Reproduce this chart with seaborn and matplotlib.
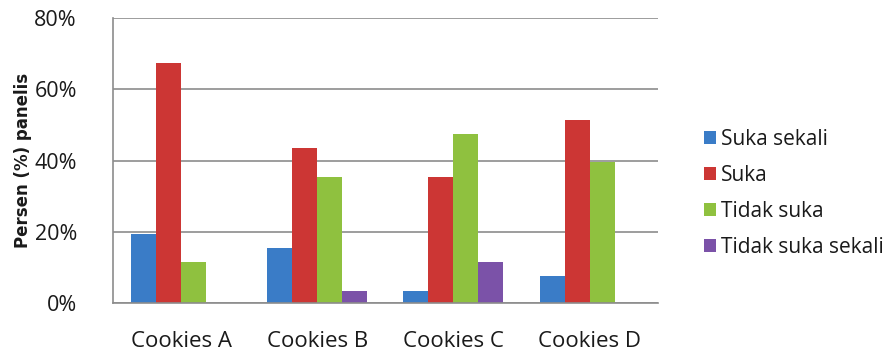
import matplotlib
matplotlib.use("Agg")
import matplotlib.pyplot as plt
import seaborn as sns
import pandas as pd
from matplotlib.ticker import FixedLocator, PercentFormatter

categories = ["Cookies A", "Cookies B", "Cookies C", "Cookies D"]
series = ["Suka sekali", "Suka", "Tidak suka", "Tidak suka sekali"]
suka_sekali = [19.5, 15.5, 3.5, 7.5]
suka = [67.5, 43.5, 35.5, 51.5]
tidak_suka = [11.5, 35.5, 47.5, 39.5]
tidak_suka_sekali = [0.0, 3.5, 11.5, 0.0]
colors = ["#3a7cc7", "#cc3634", "#8fc13f", "#7b52a8"]

rows = []
for s, vals in zip(series, [suka_sekali, suka, tidak_suka, tidak_suka_sekali]):
    for c, v in zip(categories, vals):
        rows.append({"Cookies": c, "Kategori": s, "Persen": v})
df = pd.DataFrame(rows)

sns.set_style("white")
plt.rcParams["font.family"] = ["Open Sans", "DejaVu Sans"]

fig = plt.figure(figsize=(8.9, 3.54), dpi=100)
ax = fig.add_axes([0.127, 0.144, 0.612, 0.805])
sns.barplot(data=df, x="Cookies", y="Persen", hue="Kategori", order=categories,
            hue_order=series, palette=colors, width=0.735, gap=0, ax=ax,
            edgecolor="none", linewidth=0, saturation=1)

ax.set_xlim(-0.5, 3.5)
ax.set_ylim(0, 80)
ax.set_yticks([0, 20, 40, 60, 80])
ax.yaxis.set_major_formatter(PercentFormatter(decimals=0))
ax.grid(axis="y", color="#8c8c8c", linewidth=1.2)
ax.set_axisbelow(True)
for side in ["top", "right"]:
    ax.spines[side].set_visible(False)
for side in ["left", "bottom"]:
    ax.spines[side].set_color("#8c8c8c")
    ax.spines[side].set_linewidth(1.2)
ax.tick_params(axis="y", length=4, color="#8c8c8c", width=1.2, labelsize=15.5, pad=22,
               labelcolor="#1a1a1a")
ax.tick_params(axis="x", which="major", length=0, labelsize=16, pad=20,
               labelcolor="#1a1a1a")
ax.xaxis.set_minor_locator(FixedLocator([-0.5, 0.5, 1.5, 2.5, 3.5]))
ax.tick_params(axis="x", which="minor", length=6, color="#8c8c8c", width=1.2)
ax.set_xlabel("")
ax.set_ylabel("Persen (%) panelis", fontsize=12, fontweight="bold",
              family=["DejaVu Sans"], color="#1a1a1a")
ax.yaxis.set_label_coords(-0.149, 0.5)

leg = ax.legend(loc="center left", bbox_to_anchor=(1.05, 0.385), frameon=False,
                fontsize=15, handlelength=0.6, handleheight=0.6, handletextpad=0.25,
                labelspacing=0.72)
for t in leg.get_texts():
    t.set_color("#1a1a1a")

fig.savefig("out.png", dpi=100)
